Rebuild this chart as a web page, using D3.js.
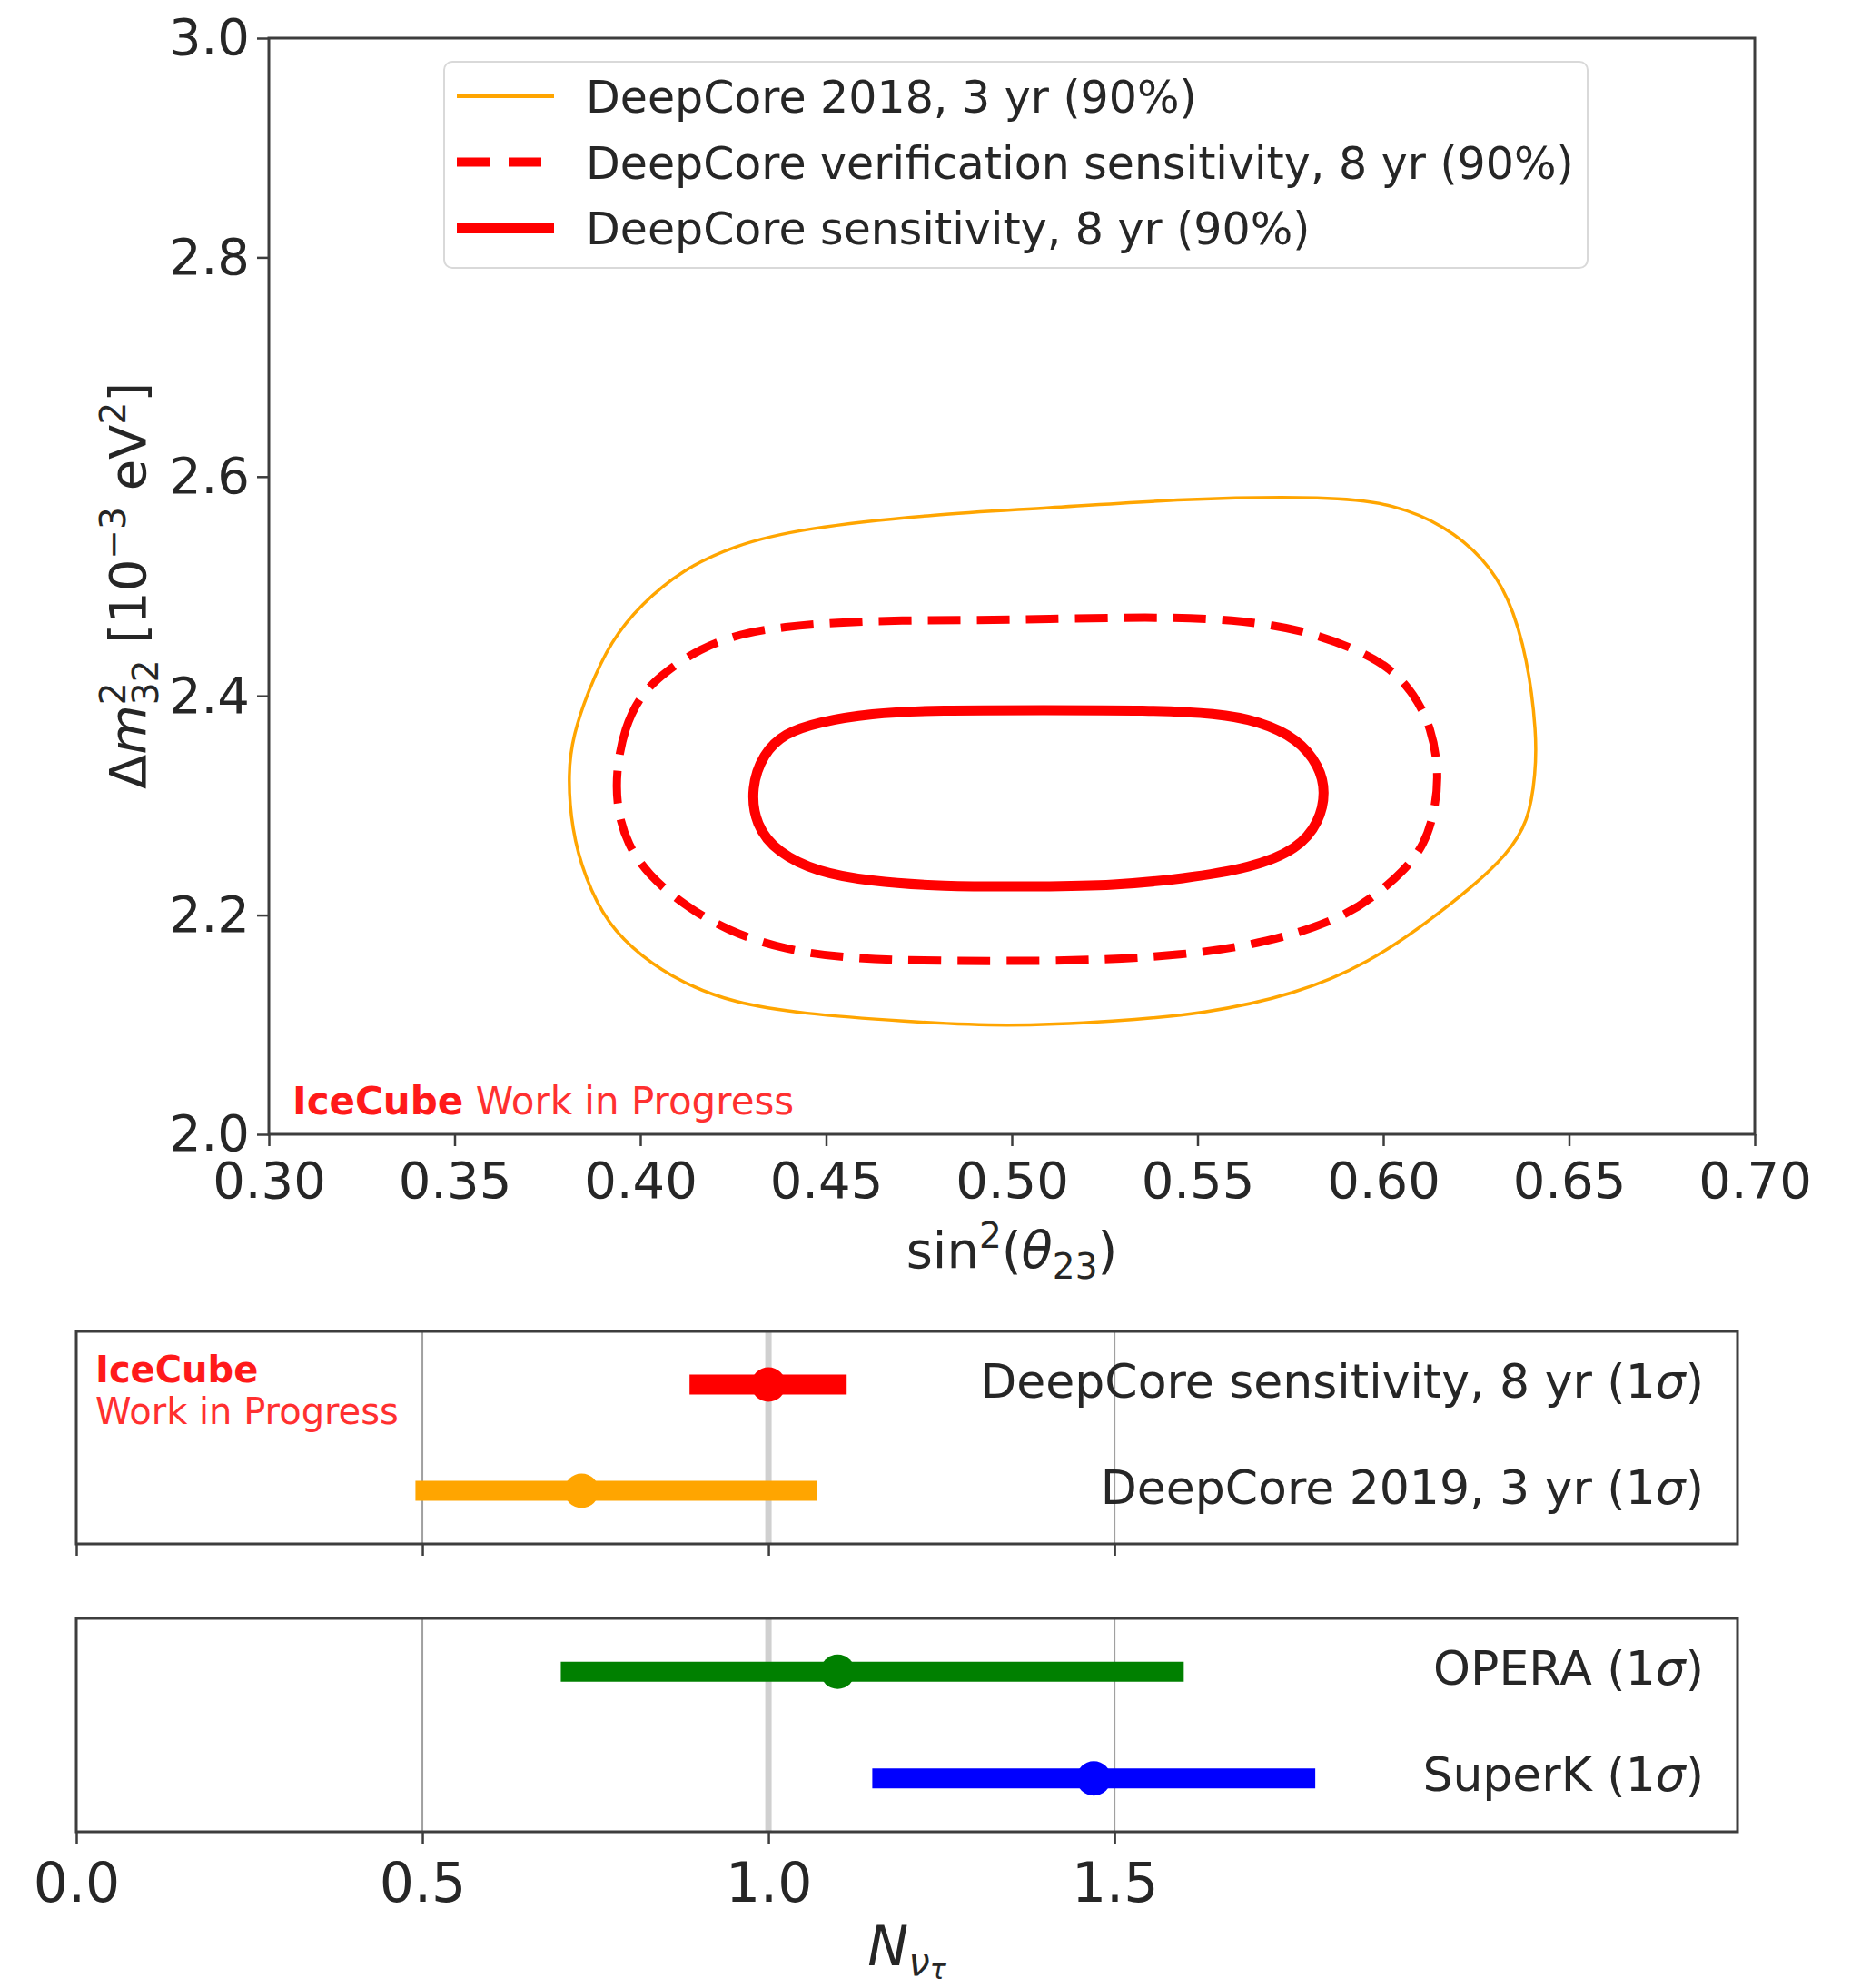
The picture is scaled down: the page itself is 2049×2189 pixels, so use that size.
<!DOCTYPE html>
<html>
<head>
<meta charset="utf-8">
<script src="https://cdn.jsdelivr.net/npm/d3@7"></script>
<style>
  body { margin: 0; background: #fff; }
  svg { display: block; }
  text { font-family: "DejaVu Sans", sans-serif; fill: #262626; }
</style>
</head>
<body>
<svg id="chart" width="2049" height="2189"></svg>
<script>
// ---- tick values ----
const sinTicks = [0.30, 0.35, 0.40, 0.45, 0.50, 0.55, 0.60, 0.65, 0.70];
const dmTicks = [2.0, 2.2, 2.4, 2.6, 2.8, 3.0];
const nTicks = [0.0, 0.5, 1.0, 1.5];

// ---- 90% contours, vertices as [sin²θ23, Δm²32 (1e-3 eV²)] ----
const dc2018 = [
  [0.3805, 2.330], [0.3819, 2.364], [0.3860, 2.405], [0.3920, 2.450], [0.4003, 2.484],
  [0.4113, 2.515], [0.4250, 2.537], [0.4434, 2.553], [0.4800, 2.566], [0.5088, 2.571],
  [0.5460, 2.580], [0.5860, 2.582], [0.6030, 2.575], [0.6167, 2.555], [0.6270, 2.526],
  [0.6338, 2.491], [0.6389, 2.434], [0.6413, 2.364], [0.6410, 2.330], [0.6392, 2.285],
  [0.6330, 2.254], [0.6240, 2.226], [0.6133, 2.197], [0.5962, 2.156], [0.5758, 2.127],
  [0.5519, 2.110], [0.5280, 2.103], [0.4984, 2.098], [0.4709, 2.103], [0.4434, 2.110],
  [0.4250, 2.120], [0.4113, 2.138], [0.4003, 2.162], [0.3911, 2.192], [0.3851, 2.234],
  [0.3815, 2.278]
];
const dcVerification = [
  [0.3934, 2.330], [0.3957, 2.371], [0.4003, 2.402], [0.4067, 2.422], [0.4159, 2.443],
  [0.4269, 2.457], [0.4388, 2.463], [0.4525, 2.467], [0.4709, 2.469], [0.4892, 2.469],
  [0.5088, 2.470], [0.5367, 2.472], [0.5600, 2.470], [0.5786, 2.460], [0.5925, 2.443],
  [0.6018, 2.426], [0.6083, 2.402], [0.6130, 2.371], [0.6150, 2.330], [0.6139, 2.295],
  [0.6111, 2.264], [0.6055, 2.240], [0.5972, 2.216], [0.5879, 2.196], [0.5693, 2.175],
  [0.5460, 2.163], [0.5181, 2.158], [0.4800, 2.158], [0.4571, 2.160], [0.4388, 2.168],
  [0.4232, 2.186], [0.4113, 2.210], [0.4021, 2.237], [0.3966, 2.264], [0.3938, 2.295]
];
const dcSensitivity = [
  [0.4298, 2.316], [0.4330, 2.347], [0.4388, 2.366], [0.4479, 2.376], [0.4617, 2.384],
  [0.4800, 2.387], [0.5088, 2.387], [0.5367, 2.387], [0.5553, 2.384], [0.5665, 2.377],
  [0.5770, 2.361], [0.5828, 2.336], [0.5845, 2.312], [0.5828, 2.285], [0.5770, 2.260],
  [0.5646, 2.243], [0.5460, 2.233], [0.5274, 2.227], [0.5088, 2.226], [0.4800, 2.226],
  [0.4617, 2.231], [0.4479, 2.239], [0.4369, 2.257], [0.4310, 2.282]
];
const legendLabels = [
  "DeepCore 2018, 3 yr (90%)",
  "DeepCore verification sensitivity, 8 yr (90%)",
  "DeepCore sensitivity, 8 yr (90%)"
];

// ---- tau normalisation N_ντ (1σ intervals) ----
const icNames = ["DeepCore sensitivity, 8 yr", "DeepCore 2019, 3 yr"];
const icBest = [1.00, 0.73];
const icLow = [0.886, 0.49];
const icHigh = [1.113, 1.07];
const icColors = ["#ff0000", "#ffa500"];

const extNames = ["OPERA", "SuperK"];
const extBest = [1.10, 1.47];
const extLow = [0.70, 1.15];
const extHigh = [1.60, 1.79];
const extColors = ["#008000", "#0000ff"];

// ================================================================
const svg = d3.select("#chart");
svg.append("rect").attr("width", 2049).attr("height", 2189).attr("fill", "#fff");

const AX = "#3d3d3d";

// ---------- upper panel: oscillation contours ----------
const oscBox = { l: 296, r: 1932, t: 42, b: 1249 };
const x = d3.scaleLinear().domain([0.30, 0.70]).range([oscBox.l, oscBox.r]);
const y = d3.scaleLinear().domain([2.0, 3.0]).range([oscBox.b, oscBox.t]);

svg.append("clipPath").attr("id", "clipOsc")
  .append("rect").attr("x", oscBox.l).attr("y", oscBox.t)
  .attr("width", oscBox.r - oscBox.l).attr("height", oscBox.b - oscBox.t);

const contourLine = d3.line()
  .x(d => x(d[0])).y(d => y(d[1]))
  .curve(d3.curveBasisClosed);

const contours = svg.append("g").attr("clip-path", "url(#clipOsc)");
contours.append("path").datum(dc2018).attr("d", contourLine)
  .attr("fill", "none").attr("stroke", "#ffa500").attr("stroke-width", 3.5);
contours.append("path").datum(dcVerification).attr("d", contourLine)
  .attr("fill", "none").attr("stroke", "#ff0000").attr("stroke-width", 9)
  .attr("stroke-dasharray", "36,18");
contours.append("path").datum(dcSensitivity).attr("d", contourLine)
  .attr("fill", "none").attr("stroke", "#ff0000").attr("stroke-width", 11);

// axes
const gx = svg.append("g").attr("transform", `translate(0,${oscBox.b})`)
  .call(d3.axisBottom(x).tickValues(sinTicks).tickFormat(d3.format(".2f"))
    .tickSize(13).tickPadding(17));
const gy = svg.append("g").attr("transform", `translate(${oscBox.l},0)`)
  .call(d3.axisLeft(y).tickValues(dmTicks).tickFormat(d3.format(".1f"))
    .tickSize(13).tickPadding(8));
[gx, gy].forEach(g => {
  g.select(".domain").remove();
  g.selectAll(".tick line").attr("stroke", AX).attr("stroke-width", 2.5);
  g.selectAll(".tick text").attr("font-size", 56).attr("fill", "#262626")
    .attr("font-family", "DejaVu Sans");
});

svg.append("rect").attr("x", oscBox.l).attr("y", oscBox.t)
  .attr("width", oscBox.r - oscBox.l).attr("height", oscBox.b - oscBox.t)
  .attr("fill", "none").attr("stroke", AX).attr("stroke-width", 3);

// axis titles
const ylab = svg.append("g").attr("transform", "translate(160,645) rotate(-90)")
  .append("text").attr("text-anchor", "middle").attr("font-size", 56);
ylab.append("tspan").text("Δ");
ylab.append("tspan").attr("font-style", "italic").text("m");
ylab.append("tspan").attr("font-size", 39).attr("dy", -22).text("2");
ylab.append("tspan").attr("font-size", 39).attr("dx", -24.8).attr("dy", 36).text("32");
ylab.append("tspan").attr("dy", -14).text(" [10");
ylab.append("tspan").attr("font-size", 39).attr("dy", -22).text("−3");
ylab.append("tspan").attr("dy", 22).text(" eV");
ylab.append("tspan").attr("font-size", 39).attr("dy", -22).text("2");
ylab.append("tspan").attr("dy", 22).text("]");

const xlab = svg.append("text").attr("x", (oscBox.l + oscBox.r) / 2).attr("y", 1396)
  .attr("text-anchor", "middle").attr("font-size", 56);
xlab.append("tspan").text("sin");
xlab.append("tspan").attr("font-size", 39).attr("dy", -22).text("2");
xlab.append("tspan").attr("dy", 22).text("(");
xlab.append("tspan").attr("font-style", "italic").text("θ");
xlab.append("tspan").attr("font-size", 39).attr("dy", 12).text("23");
xlab.append("tspan").attr("dy", -12).text(")");

// legend
const legY = d3.scalePoint().domain(legendLabels).range([106, 251]);
const leg = svg.append("g");
leg.append("rect").attr("x", 489).attr("y", 68).attr("width", 1259).attr("height", 227)
  .attr("rx", 9).attr("fill", "#fff").attr("stroke", "#d9d9d9").attr("stroke-width", 2);
const legStyle = [
  { c: "#ffa500", w: 4, dash: null },
  { c: "#ff0000", w: 10, dash: "36,21" },
  { c: "#ff0000", w: 12, dash: null }
];
legendLabels.forEach((lab, i) => {
  const yy = legY(lab);
  const ln = leg.append("line").attr("x1", 503).attr("x2", 610).attr("y1", yy).attr("y2", yy)
    .attr("stroke", legStyle[i].c).attr("stroke-width", legStyle[i].w);
  if (legStyle[i].dash) ln.attr("stroke-dasharray", legStyle[i].dash);
  leg.append("text").attr("x", 645).attr("y", yy + 18).attr("font-size", 49).text(lab);
});

// collaboration tag
const tag = svg.append("text").attr("x", 322).attr("y", 1227).attr("font-size", 42);
tag.append("tspan").attr("font-weight", "bold").attr("fill", "#ff1a1a").text("IceCube");
tag.append("tspan").attr("fill", "#ff3030").text(" Work in Progress");

// ---------- lower panels: N_ντ ----------
const nx = d3.scaleLinear().domain([0, 2.4]).range([84, 1913]);

function panel(y0, y1, names, best, low, high, colors, withLabels) {
  const g = svg.append("g");
  const ry = d3.scalePoint().domain(names).range([y0, y1]).padding(0.5);
  // vertical grid
  g.selectAll(".grid").data(nTicks.filter(d => d > 0)).join("line")
    .attr("x1", d => nx(d)).attr("x2", d => nx(d)).attr("y1", y0).attr("y2", y1)
    .attr("stroke", "#a0a0a0").attr("stroke-width", 2);
  // reference line at N = 1
  g.append("line").attr("x1", nx(1)).attr("x2", nx(1)).attr("y1", y0).attr("y2", y1)
    .attr("stroke", "#d0d0d0").attr("stroke-width", 7);
  // error bars
  names.forEach((n, i) => {
    const yy = ry(n);
    g.append("line").attr("x1", nx(low[i])).attr("x2", nx(high[i]))
      .attr("y1", yy).attr("y2", yy).attr("stroke", colors[i]).attr("stroke-width", 22);
    g.append("circle").attr("cx", nx(best[i])).attr("cy", yy).attr("r", 19).attr("fill", colors[i]);
    const t = g.append("text").attr("x", 1876).attr("y", yy + 14)
      .attr("text-anchor", "end").attr("font-size", 52);
    t.append("tspan").text(n + " (1");
    t.append("tspan").attr("font-style", "italic").text("σ");
    t.append("tspan").text(")");
  });
  // frame
  g.append("rect").attr("x", nx(0)).attr("y", y0).attr("width", nx(2.4) - nx(0)).attr("height", y1 - y0)
    .attr("fill", "none").attr("stroke", AX).attr("stroke-width", 3);
  // ticks
  const ax = g.append("g").attr("transform", `translate(0,${y1})`)
    .call(d3.axisBottom(nx).tickValues(nTicks).tickFormat(withLabels ? d3.format(".1f") : () => "")
      .tickSize(13).tickPadding(21));
  ax.select(".domain").remove();
  ax.selectAll(".tick line").attr("stroke", AX).attr("stroke-width", 2.5);
  ax.selectAll(".tick text").attr("font-size", 60).attr("fill", "#262626")
    .attr("font-family", "DejaVu Sans");
  return g;
}

panel(1466, 1700, icNames, icBest, icLow, icHigh, icColors, false);
panel(1782, 2017, extNames, extBest, extLow, extHigh, extColors, true);

// collaboration tag in the tau panel
const tag2 = svg.append("text").attr("font-size", 40);
tag2.append("tspan").attr("x", 105).attr("y", 1522).attr("font-weight", "bold")
  .attr("fill", "#ff1a1a").text("IceCube");
tag2.append("tspan").attr("x", 105).attr("y", 1568).attr("fill", "#ff3030").text("Work in Progress");

// N_ντ axis title
const nlab = svg.append("text").attr("x", (nx(0) + nx(2.4)) / 2).attr("y", 2164)
  .attr("text-anchor", "middle").attr("font-size", 60);
nlab.append("tspan").attr("font-style", "italic").text("N");
nlab.append("tspan").attr("font-style", "italic").attr("font-size", 42).attr("dy", 11).text("ν");
nlab.append("tspan").attr("font-style", "italic").attr("font-size", 30).attr("dy", 4).text("τ");
</script>
</body>
</html>
